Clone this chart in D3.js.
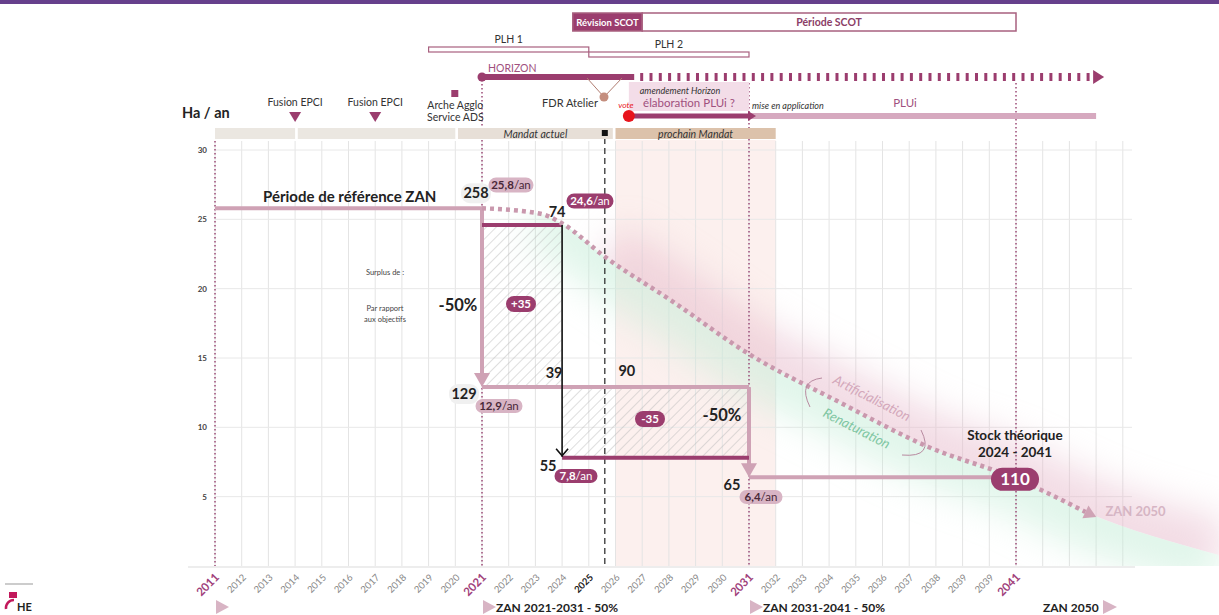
<!DOCTYPE html>
<html>
<head>
<meta charset="utf-8">
<script src="https://cdn.jsdelivr.net/npm/d3@7"></script>
<style>
  body { margin: 0; background: #fff; }
  svg { display: block; font-family: Lato, 'Open Sans', sans-serif; }
</style>
</head>
<body>
<svg id="chart" width="1219" height="615"></svg>
<script>
// ---- data ----
var yearLabels = ['2011','2012','2013','2014','2015','2016','2017','2018','2019','2020',
  '2021','2022','2023','2024','2025','2026','2027','2028','2029','2030',
  '2031','2032','2033','2034','2035','2036','2037','2038','2039','2039','2041']
var keyYears = ['2011','2021','2031','2041']
var yTicks = [5, 10, 15, 20, 25, 30]

var refLine = [[2011, 25.8], [2021, 25.8]]
var target1 = [[2021, 12.9], [2031, 12.9]]
var target2 = [[2031, 6.4], [2041, 6.4]]
var actual1 = [[2021, 24.6], [2024, 24.6]]
var actual2 = [[2024, 7.8], [2031, 7.8]]
var trajectory = [[2021, 25.8], [2023.2, 25.4], [2024, 24.7], [2025.6, 22.3], [2028.2, 19.0],
  [2030.9, 15.4], [2034.4, 11.8], [2037.7, 8.6], [2041, 6.3], [2043.6, 3.9]]
var hazeTail = [[2048.6, 0.8]]

var totals = [
  { t: '258', year: 2021, v: 25.8 },
  { t: '74', year: 2024, v: 24.6 },
  { t: '129', year: 2021, v: 12.9 },
  { t: '39', year: 2024, v: 12.9 },
  { t: '90', year: 2026.5, v: 12.9 },
  { t: '55', year: 2024, v: 7.8 },
  { t: '65', year: 2031, v: 6.4 }
]
var rates = ['25,8', '24,6', '12,9', '7,8', '6,4']
var deltas = ['+35', '-35']
var stock = '110'

var scot = [{ label: 'Révision SCOT', start: 2024.4, end: 2027 }, { label: 'Période SCOT', start: 2027, end: 2041 }]
var plh = [{ label: 'PLH 1', start: 2019, end: 2025 }, { label: 'PLH 2', start: 2025, end: 2031 }]
var horizon = { start: 2021, solidEnd: 2026.7, end: 2044.3 }
var plui = { vote: 2026.5, apply: 2031, end: 2044 }
var mandats = [
  { label: '', start: 2011, end: 2014 },
  { label: '', start: 2014.1, end: 2020 },
  { label: 'Mandat actuel', start: 2020.1, end: 2025.9 },
  { label: 'prochain Mandat', start: 2026, end: 2032 }
]
var events = [{ label: 'Fusion EPCI', year: 2014 }, { label: 'Fusion EPCI', year: 2017 }]
var dashedYear = 2025.6

var plum = '#9b3d6e'
var mauve = '#cfa2b5'
var pale = '#d8b4c4'

var svg = d3.select('#chart')
var x = d3.scaleLinear().domain([2011, 2041]).range([215, 1016])
var y = d3.scaleLinear().domain([0, 30]).range([566, 150])

var defs = svg.append('defs')
defs.append('pattern').attr('id', 'hatch').attr('patternUnits', 'userSpaceOnUse')
  .attr('width', 7).attr('height', 7).attr('patternTransform', 'rotate(45)')
  .append('line').attr('x1', 0).attr('y1', 0).attr('x2', 0).attr('y2', 7)
  .attr('stroke', '#b5b5b5').attr('stroke-width', 0.9)
defs.append('filter').attr('id', 'blur').attr('x', '-50%').attr('y', '-50%').attr('width', '200%').attr('height', '200%')
  .append('feGaussianBlur').attr('stdDeviation', 18)

// top purple band
svg.append('rect').attr('x', 0).attr('y', 0).attr('width', 1219).attr('height', 4).attr('fill', '#66408c')

// ---- chart background ----
svg.append('rect').attr('x', x(2026)).attr('y', 140).attr('width', x(2032) - x(2026)).attr('height', 426)
  .attr('fill', '#fcf0ee')

var grid = svg.append('g')
grid.selectAll('line.v').data(d3.range(2011, 2046)).enter().append('line')
  .attr('x1', d => x(d)).attr('x2', d => x(d)).attr('y1', 141).attr('y2', 566)
  .attr('stroke', '#e4e4e4').attr('stroke-width', 1)
grid.selectAll('line.h').data(yTicks).enter().append('line')
  .attr('x1', 215).attr('x2', 1132).attr('y1', d => y(d)).attr('y2', d => y(d))
  .attr('stroke', '#e8e8e8').attr('stroke-width', 1)
svg.append('line').attr('x1', 188).attr('x2', 1135).attr('y1', 567).attr('y2', 567)
  .attr('stroke', '#dcdcdc').attr('stroke-width', 1.2)

// haze along the trajectory
var line = d3.line().x(d => x(d[0])).y(d => y(d[1])).curve(d3.curveMonotoneX)
var hazePts = trajectory.concat(hazeTail)
var edge = line(hazePts)
defs.append('clipPath').attr('id', 'above').append('path')
  .attr('d', edge + 'L1219,140L' + x(2021) + ',140Z')
defs.append('clipPath').attr('id', 'below').append('path')
  .attr('d', edge + 'L1219,566L' + x(2021) + ',566Z')
svg.append('g').attr('clip-path', 'url(#above)').append('path')
  .attr('d', line(hazePts.slice(3))).attr('fill', 'none').attr('stroke', '#e6b9cb')
  .attr('stroke-width', 70).attr('opacity', 0.5).attr('filter', 'url(#blur)')
svg.append('g').attr('clip-path', 'url(#below)').append('path')
  .attr('d', line(hazePts.slice(1))).attr('fill', 'none').attr('stroke', '#c2ecd6')
  .attr('stroke-width', 70).attr('opacity', 0.5).attr('filter', 'url(#blur)')

// hatched surplus / deficit
svg.append('rect').attr('x', x(2021)).attr('y', y(actual1[0][1])).attr('width', x(2024) - x(2021))
  .attr('height', y(target1[0][1]) - y(actual1[0][1])).attr('fill', 'url(#hatch)')
svg.append('rect').attr('x', x(2024)).attr('y', y(target1[0][1])).attr('width', x(2031) - x(2024))
  .attr('height', y(actual2[0][1]) - y(target1[0][1])).attr('fill', 'url(#hatch)')

// key year dotted verticals
var dotTop = { '2011': 141, '2021': 80, '2031': 83, '2041': 83 }
svg.selectAll('line.key').data(keyYears).enter().append('line')
  .attr('x1', d => x(+d)).attr('x2', d => x(+d)).attr('y1', d => dotTop[d]).attr('y2', 566)
  .attr('stroke', '#a2567f').attr('stroke-width', 1.6).attr('stroke-dasharray', '1.5,2.5')
svg.append('line').attr('x1', x(dashedYear)).attr('x2', x(dashedYear)).attr('y1', 138).attr('y2', 566)
  .attr('stroke', '#222').attr('stroke-width', 1.2).attr('stroke-dasharray', '6,4')

// y tick labels
svg.selectAll('text.yt').data(yTicks).enter().append('text')
  .attr('x', 207).attr('y', d => y(d) + 3).attr('text-anchor', 'end')
  .attr('font-size', 8).attr('font-weight', 'bold').attr('fill', '#444').text(d => d)

// x tick labels
var isKey = (d, i) => keyYears.indexOf(d) >= 0 && yearLabels.indexOf(d) === i
svg.selectAll('text.xt').data(yearLabels).enter().append('text')
  .attr('transform', (d, i) => `translate(${x(2011 + i) + 5},${578}) rotate(-45)`)
  .attr('text-anchor', 'end')
  .attr('font-size', (d, i) => isKey(d, i) ? 11.5 : 9.5)
  .attr('font-weight', (d, i) => isKey(d, i) || d === '2025' ? 'bold' : 'normal')
  .attr('fill', (d, i) => isKey(d, i) ? '#a0407a' : (d === '2025' ? '#222' : '#888'))
  .text(d => d)

// ---- reference and target lines ----
var step = d3.line().x(d => x(d[0])).y(d => y(d[1]))
svg.append('path').attr('d', step(refLine)).attr('stroke', mauve).attr('stroke-width', 4).attr('fill', 'none')
svg.append('path').attr('d', step(target1)).attr('stroke', mauve).attr('stroke-width', 4).attr('fill', 'none')
svg.append('path').attr('d', step(target2)).attr('stroke', mauve).attr('stroke-width', 4).attr('fill', 'none')

function downArrow(year, from, to, color) {
  var xx = x(year)
  svg.append('line').attr('x1', xx).attr('x2', xx).attr('y1', y(from)).attr('y2', y(to) - 12)
    .attr('stroke', color).attr('stroke-width', 4)
  svg.append('path').attr('d', `M${xx - 8},${y(to) - 14}L${xx + 8},${y(to) - 14}L${xx},${y(to)}Z`).attr('fill', color)
}
downArrow(2021, refLine[1][1], target1[0][1], mauve)
downArrow(2031, target1[1][1], target2[0][1], mauve)

svg.append('path').attr('d', step(actual1)).attr('stroke', plum).attr('stroke-width', 4).attr('fill', 'none')
svg.append('path').attr('d', step(actual2)).attr('stroke', plum).attr('stroke-width', 4).attr('fill', 'none')

// trajectory dotted curve
svg.append('path').attr('d', line(trajectory)).attr('fill', 'none').attr('stroke', '#c998ad')
  .attr('stroke-width', 4.5).attr('stroke-dasharray', '4,4')
var tEnd = trajectory[trajectory.length - 1], tPrev = trajectory[trajectory.length - 2]
var ang = Math.atan2(y(tEnd[1]) - y(tPrev[1]), x(tEnd[0]) - x(tPrev[0])) * 180 / Math.PI
svg.append('path').attr('d', 'M0,-7L12,0L0,7Z').attr('fill', '#cfa3b5')
  .attr('transform', `translate(${x(tEnd[0])},${y(tEnd[1])}) rotate(${ang})`)
svg.append('text').attr('x', x(tEnd[0]) + 20).attr('y', y(tEnd[1]) + 4).attr('font-size', 13)
  .attr('font-weight', 'bold').attr('fill', '#d6b5c4').text('ZAN 2050')

// black consumption arrow
svg.append('line').attr('x1', x(2024)).attr('x2', x(2024)).attr('y1', y(actual1[0][1])).attr('y2', y(actual2[0][1]) - 1)
  .attr('stroke', '#111').attr('stroke-width', 1.6)
svg.append('path').attr('d', `M${x(2024) - 6},${y(actual2[0][1]) - 9}L${x(2024)},${y(actual2[0][1]) - 2}L${x(2024) + 6},${y(actual2[0][1]) - 9}`)
  .attr('stroke', '#111').attr('stroke-width', 1.6).attr('fill', 'none')

// arc texts
svg.append('text').attr('transform', 'translate(832,383) rotate(27)').attr('font-size', 13.5)
  .attr('font-style', 'italic').attr('fill', '#d3a7ba').text('Artificialisation')
svg.append('text').attr('transform', 'translate(822,416) rotate(27)').attr('font-size', 13.5)
  .attr('font-style', 'italic').attr('fill', '#7fc6a2').text('Renaturation')
svg.append('path').attr('d', 'M822,378Q797,381 810,407').attr('stroke', '#b88aa0').attr('fill', 'none').attr('stroke-width', 1)
svg.append('path').attr('d', 'M921,430Q935,458 902,455').attr('stroke', '#b88aa0').attr('fill', 'none').attr('stroke-width', 1)

// ---- labels ----
function pill(cx, cy, w, h, fill, color, bold, normal, size) {
  svg.append('rect').attr('x', cx - w / 2).attr('y', cy - h / 2).attr('width', w).attr('height', h)
    .attr('rx', h / 2).attr('fill', fill)
  var t = svg.append('text').attr('x', cx).attr('y', cy + size * 0.36).attr('text-anchor', 'middle')
    .attr('font-size', size).attr('fill', color)
  t.append('tspan').attr('font-weight', 'bold').text(bold)
  if (normal) t.append('tspan').text(normal)
}

var totalPos = [[-6, -15], [-5, -13], [-18, 7], [-8, -14], [-2, -16], [-14, 8], [-17, 8]]
totals.forEach((d, i) => {
  var cx = x(d.year) + totalPos[i][0], cy = y(d.v) + totalPos[i][1]
  if (i === 0 || i === 2) svg.append('rect').attr('x', cx - 15).attr('y', cy - 10).attr('width', 30).attr('height', 20)
    .attr('rx', 9).attr('fill', '#f0f0f0')
  svg.append('text').attr('x', cx).attr('y', cy + 5).attr('text-anchor', 'middle')
    .attr('font-size', 14.5).attr('font-weight', 'bold').attr('fill', '#222').text(d.t)
})

pill(511, 185, 45, 15, pale, '#4a2838', rates[0], '/an', 11.5)
pill(590, 201, 47, 15, plum, '#fff', rates[1], '/an', 11.5)
pill(499, 406, 47, 14, pale, '#4a2838', rates[2], '/an', 11.5)
pill(576, 476, 43, 14, plum, '#fff', rates[3], '/an', 11.5)
pill(761, 497, 43, 14, pale, '#4a2838', rates[4], '/an', 11.5)
pill(521, 304, 30, 16, plum, '#fff', deltas[0], '', 11.5)
pill(650, 419, 30, 16, plum, '#fff', deltas[1], '', 11.5)
pill(x(2041) - 1, y(6.4) + 2, 48, 23, plum, '#fff', stock, '', 17)

svg.append('text').attr('x', 263).attr('y', 202).attr('font-size', 15).attr('font-weight', 'bold')
  .attr('fill', '#222').text('Période de référence ZAN')
svg.append('text').attr('x', 458).attr('y', 311).attr('text-anchor', 'middle').attr('font-size', 16.5)
  .attr('font-weight', 'bold').attr('fill', '#222').text('-50%')
svg.append('text').attr('x', 722).attr('y', 421).attr('text-anchor', 'middle').attr('font-size', 16.5)
  .attr('font-weight', 'bold').attr('fill', '#222').text('-50%')
svg.selectAll('text.note').data([['Surplus de :', 275], ['Par rapport', 311], ['aux objectifs', 322]]).enter()
  .append('text').attr('x', 385).attr('y', d => d[1]).attr('text-anchor', 'middle').attr('font-size', 7.5)
  .attr('fill', '#444').text(d => d[0])
svg.append('text').attr('x', 1015).attr('y', 440).attr('text-anchor', 'middle').attr('font-size', 13.5)
  .attr('font-weight', 'bold').attr('fill', '#222').text('Stock théorique')
svg.append('text').attr('x', 1015).attr('y', 457).attr('text-anchor', 'middle').attr('font-size', 13.5)
  .attr('font-weight', 'bold').attr('fill', '#222').text('2024 - 2041')

// ---- top timeline ----
svg.append('text').attr('x', 182).attr('y', 118).attr('font-size', 14.5).attr('font-weight', 'bold')
  .attr('fill', '#222').text('Ha / an')

// mandat band
var mandat = svg.selectAll('g.mandat').data(mandats).enter().append('g')
mandat.append('rect').attr('x', d => x(d.start)).attr('y', 128).attr('width', d => x(d.end) - x(d.start))
  .attr('height', 11).attr('fill', (d, i) => i === 3 ? '#dcc2ab' : (i === 2 ? '#e7dfd7' : '#ebe7e1'))
mandat.append('text').attr('x', d => (x(d.start) + x(d.end)) / 2).attr('y', 137.5).attr('text-anchor', 'middle')
  .attr('font-size', 10.5).attr('font-style', 'italic').attr('fill', '#333').text(d => d.label)
svg.append('rect').attr('x', x(dashedYear) - 3).attr('y', 130).attr('width', 6).attr('height', 6).attr('fill', '#111')

// events
var ev = svg.selectAll('g.ev').data(events).enter().append('g')
ev.append('text').attr('x', d => x(d.year)).attr('y', 106).attr('text-anchor', 'middle')
  .attr('font-size', 10.5).attr('fill', '#333').text(d => d.label)
ev.append('path').attr('d', d => `M${x(d.year) - 6},${112}L${x(d.year) + 6},${112}L${x(d.year)},${122}Z`).attr('fill', plum)
svg.append('rect').attr('x', x(2020) - 4).attr('y', 90).attr('width', 7).attr('height', 7).attr('fill', plum)
svg.append('text').attr('x', x(2020)).attr('y', 109).attr('text-anchor', 'middle').attr('font-size', 10.5)
  .attr('fill', '#333').text('Arche Agglo')
svg.append('text').attr('x', x(2020)).attr('y', 121).attr('text-anchor', 'middle').attr('font-size', 10.5)
  .attr('fill', '#333').text('Service ADS')

// SCOT
svg.selectAll('rect.scot').data(scot).enter().append('rect')
  .attr('x', d => x(d.start)).attr('y', 13).attr('width', d => x(d.end) - x(d.start)).attr('height', 18)
  .attr('fill', (d, i) => i === 0 ? plum : '#fff').attr('stroke', '#a8607f').attr('stroke-width', 1.5)
svg.selectAll('text.scot').data(scot).enter().append('text')
  .attr('x', d => (x(d.start) + x(d.end)) / 2).attr('y', 25.5).attr('text-anchor', 'middle')
  .attr('font-size', (d, i) => i === 0 ? 9.5 : 10.5).attr('font-weight', 'bold')
  .attr('fill', (d, i) => i === 0 ? '#fff' : '#8b3d66').text(d => d.label)

// PLH
svg.selectAll('rect.plh').data(plh).enter().append('rect')
  .attr('x', d => x(d.start)).attr('y', (d, i) => 47 + i * 5).attr('width', d => x(d.end) - x(d.start)).attr('height', 5)
  .attr('fill', '#fff').attr('stroke', '#a8607f').attr('stroke-width', 1.2)
svg.selectAll('text.plh').data(plh).enter().append('text')
  .attr('x', d => (x(d.start) + x(d.end)) / 2).attr('y', (d, i) => 43 + i * 5).attr('text-anchor', 'middle')
  .attr('font-size', 10.5).attr('fill', '#333').text(d => d.label)

// amendement box
svg.append('rect').attr('x', x(plui.vote)).attr('y', 82).attr('width', x(plui.apply) - x(plui.vote)).attr('height', 29)
  .attr('fill', '#f3dde8')
svg.append('text').attr('x', 680).attr('y', 94).attr('text-anchor', 'middle').attr('font-size', 9)
  .attr('font-style', 'italic').attr('fill', '#333').text('amendement Horizon')
svg.append('text').attr('x', 689).attr('y', 107).attr('text-anchor', 'middle').attr('font-size', 11.5)
  .attr('fill', '#a0507e').text('élaboration PLUi ?')

// HORIZON
svg.append('line').attr('x1', x(horizon.start)).attr('x2', x(horizon.solidEnd)).attr('y1', 77).attr('y2', 77)
  .attr('stroke', plum).attr('stroke-width', 6)
svg.append('circle').attr('cx', x(horizon.start)).attr('cy', 77).attr('r', 4.5).attr('fill', plum)
svg.append('line').attr('x1', x(horizon.solidEnd) + 6).attr('x2', x(horizon.end) - 12).attr('y1', 77).attr('y2', 77)
  .attr('stroke', plum).attr('stroke-width', 8).attr('stroke-dasharray', '3,6.3')
svg.append('path').attr('d', `M${x(horizon.end) - 11},70L${x(horizon.end)},77L${x(horizon.end) - 11},84Z`).attr('fill', plum)
svg.append('text').attr('x', 488).attr('y', 72).attr('font-size', 10.5).attr('fill', '#a0507e').text('HORIZON')

// FDR Atelier
svg.append('path').attr('d', 'M587,78L604,97L622,78').attr('stroke', '#b07c70').attr('fill', 'none').attr('stroke-width', 1)
svg.append('circle').attr('cx', 604).attr('cy', 97).attr('r', 4.5).attr('fill', '#c48e7e')
svg.append('text').attr('x', 570).attr('y', 107).attr('text-anchor', 'middle').attr('font-size', 11)
  .attr('fill', '#333').text('FDR Atelier')

// PLUi
svg.append('line').attr('x1', x(plui.apply)).attr('x2', x(plui.end)).attr('y1', 116).attr('y2', 116)
  .attr('stroke', '#d6a9bf').attr('stroke-width', 6)
svg.append('line').attr('x1', x(plui.vote)).attr('x2', x(plui.apply)).attr('y1', 116).attr('y2', 116)
  .attr('stroke', plum).attr('stroke-width', 5)
svg.append('path').attr('d', `M${x(plui.apply) - 1},111L${x(plui.apply) + 7},116L${x(plui.apply) - 1},121Z`).attr('fill', plum)
svg.append('circle').attr('cx', x(plui.vote)).attr('cy', 116).attr('r', 6).attr('fill', '#e8141c')
svg.append('text').attr('x', x(plui.vote) - 3).attr('y', 108).attr('text-anchor', 'middle').attr('font-size', 8.5)
  .attr('font-style', 'italic').attr('fill', '#e8141c').text('vote')
svg.append('text').attr('x', 752).attr('y', 109).attr('font-size', 9).attr('font-style', 'italic')
  .attr('fill', '#333').text('mise en application')
svg.append('text').attr('x', 905).attr('y', 107).attr('text-anchor', 'middle').attr('font-size', 11.5)
  .attr('fill', '#a0507e').text('PLUi')

// ---- bottom ZAN periods ----
var zan = [['', 2011], ['ZAN 2021-2031 - 50%', 2021], ['ZAN 2031-2041 - 50%', 2031]]
zan.forEach(d => {
  svg.append('path').attr('d', `M${x(d[1]) + 1},600L${x(d[1]) + 14},607L${x(d[1]) + 1},614Z`).attr('fill', pale)
  svg.append('text').attr('x', x(d[1]) + 14).attr('y', 612).attr('font-size', 12).attr('font-weight', 'bold')
    .attr('fill', '#222').text(d[0])
})
svg.append('text').attr('x', 1043).attr('y', 612).attr('font-size', 12).attr('font-weight', 'bold')
  .attr('fill', '#222').text('ZAN 2050')
svg.append('path').attr('d', 'M1103,600L1117,607L1103,614Z').attr('fill', pale)

// logo
svg.append('rect').attr('x', 5).attr('y', 583).attr('width', 28).attr('height', 2).attr('fill', '#ccc')
svg.append('rect').attr('x', 9).attr('y', 592).attr('width', 8).attr('height', 6).attr('fill', '#c2185b')
svg.append('path').attr('d', 'M6,609A8,8 0 0 1 14,600').attr('stroke', '#c2185b').attr('stroke-width', 2.5).attr('fill', 'none')
svg.append('text').attr('x', 17).attr('y', 611).attr('font-size', 11).attr('font-weight', 'bold').attr('fill', '#222').text('HE')
</script>
</body>
</html>
